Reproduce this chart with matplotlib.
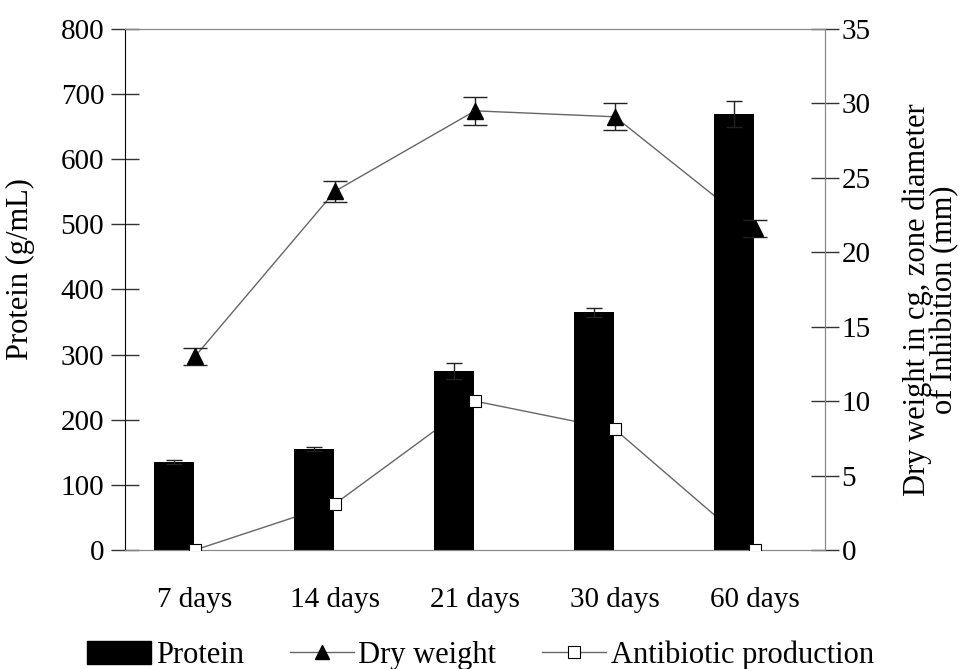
import numpy as np
import matplotlib.pyplot as plt
from matplotlib.lines import Line2D
from matplotlib.patches import Patch

plt.rcParams['font.family'] = ['Liberation Serif', 'DejaVu Serif']

# data
days = ['7 days', '14 days', '21 days', '30 days', '60 days']
protein = [135, 155, 275, 365, 670]
protein_err = [3, 3, 12, 7, 20]
dry_weight = [13.0, 24.1, 29.5, 29.1, 21.6]
dry_weight_err = [0.6, 0.7, 0.95, 0.9, 0.6]
antibiotic = [0.0, 3.1, 10.0, 8.1, 0.0]
antibiotic_err = [0.1, 0.3, 0.3, 0.3, 0.1]

x = np.arange(len(days))
FS = 21

fig = plt.figure(figsize=(9.61, 6.69), dpi=100)
ax = fig.add_axes([0.1301, 0.1779, 0.8585 - 0.1301, 0.9567 - 0.1779])
ax2 = ax.twinx()
ax2.set_zorder(ax.get_zorder() + 1)
ax2.patch.set_visible(False)

# lines sit behind the bars, markers on top
ax2.plot(x, dry_weight, color='#666666', lw=1, zorder=1)
ax2.plot(x, antibiotic, color='#666666', lw=1, zorder=1)

scale = 35 / 800
prot_r = [v * scale for v in protein]
ax2.bar(x - 0.15, prot_r, width=0.29, color='black', zorder=2)
ax2.errorbar(x - 0.15, prot_r, yerr=[e * scale for e in protein_err], fmt='none',
             ecolor='#222222', elinewidth=1, capsize=6, capthick=1, zorder=3)

ax2.errorbar(x, dry_weight, yerr=dry_weight_err, fmt='^', ms=12, color='black',
             ecolor='#222222', elinewidth=1, capsize=8.5, capthick=1, zorder=4)
ax2.errorbar(x, antibiotic, yerr=antibiotic_err, fmt='s', ms=9, mfc='white',
             mec='black', mew=0.8, ecolor='#222222', elinewidth=1, capsize=4,
             capthick=1, zorder=4)

ax.set_xlim(-0.5, 4.5)
ax.set_ylim(0, 800)
ax2.set_ylim(0, 35)
ax.set_yticks(range(0, 801, 100))
ax2.set_yticks(range(0, 36, 5))
ax.set_xticks(x)
ax.set_xticklabels(days)

for a in (ax, ax2):
    for s in ('top', 'bottom', 'right'):
        a.spines[s].set_color('#888888')
    a.spines['left'].set_color('black')
ax2.spines['left'].set_visible(False)

ax.tick_params(axis='y', direction='inout', length=20, width=1, labelsize=FS,
               color='#333333', pad=5)
ax2.tick_params(axis='y', direction='inout', length=20, width=1, labelsize=FS,
                color='#333333', pad=2)
ax.tick_params(axis='x', length=0, labelsize=FS, pad=27)

ax.set_ylabel('Protein (g/mL)', fontsize=22)
ax.yaxis.set_label_coords(-0.128, 0.54)
ax2.set_ylabel('Dry weight in cg, zone diameter\nof Inhibition (mm)', fontsize=22,
               labelpad=30, linespacing=0.95)
ax2.yaxis.set_label_coords(1.11, 0.48)

handles = [
    Patch(facecolor='black', edgecolor='black'),
    Line2D([], [], color='#666666', lw=1, marker='^', ms=10, mfc='black', mec='black'),
    Line2D([], [], color='#666666', lw=1, marker='s', ms=8, mfc='white', mec='black', mew=0.8),
]
fig.legend(handles, ['Protein', 'Dry weight', 'Antibiotic production'],
           loc='center', bbox_to_anchor=(0.5, 0.02), ncol=3,
           frameon=False, fontsize=22, handlelength=2.1, handleheight=0.8,
           columnspacing=1.5, handletextpad=0.15)

fig.savefig('out.png', dpi=100)
